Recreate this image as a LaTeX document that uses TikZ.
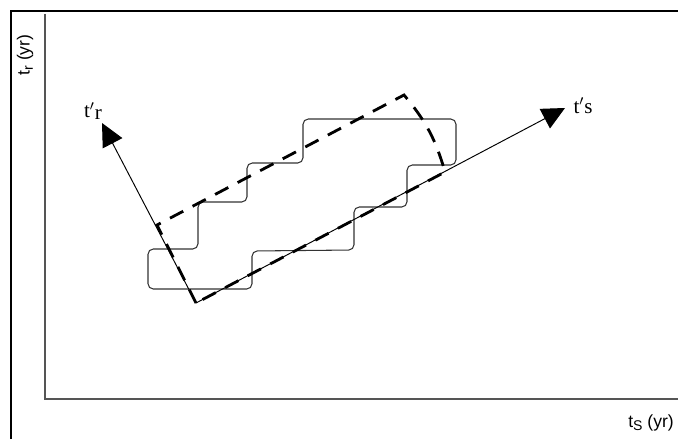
\documentclass[tikz,border=0pt]{standalone}
\usepackage{fontspec}
\setmainfont{Liberation Sans}
\newfontfamily\labelfont{Liberation Serif}
\usetikzlibrary{arrows.meta}
\definecolor{axisgray}{HTML}{555555}
\definecolor{stepgray}{HTML}{333333}
\newcommand{\lowsub}[1]{\raisebox{-0.35ex}{\fontsize{8}{8}\selectfont #1}}

\begin{document}
\begin{tikzpicture}[
    x=0.02cm,y=-0.02cm,
    frame/.style={line width=1.2pt,draw=black},
    axisline/.style={line width=0.9pt,draw=axisgray},
    rotaxis/.style={-{Triangle[length=13pt,width=12.5pt]},line width=0.55pt,draw=black},
    window/.style={dash pattern=on 8.5pt off 6pt,line width=1.6pt,draw=black},
    stairs/.style={line width=0.6pt,draw=stepgray,rounded corners=3pt},
    axislabel/.style={font=\fontsize{10}{12}\selectfont,inner sep=0pt},
    rotlabel/.style={font=\fontsize{12}{14}\selectfont\labelfont,inner sep=0pt}
  ]
    \useasboundingbox (0,0) rectangle (678,439);
    % outer frame (top and left only)
    \draw[frame] (11,439) -- (11,11) -- (678,11);
    % original axes
    \coordinate (top) at (45,14);
    \coordinate (org) at (45,399);
    \coordinate (right) at (678,399);
    \draw[axisline] (top) -- (org) -- (right);
    \node[axislabel,rotate=90] (tr) at (25,55) {t\lowsub{r} (yr)};
    \node[axislabel] (ts) at (651,423) {t\lowsub{S} (yr)};
    % staircase region
    \draw[stairs] (148,289) -- (252,289) -- (252,251) -- (354,250) -- (354,207)
      -- (407,207) -- (407,165) -- (456,165) -- (456,119) -- (303,119)
      -- (303,163) -- (247,163) -- (247,202) -- (198,202) -- (198,249)
      -- (148,249) -- cycle;
    % rotated axes
    \coordinate (O) at (196,303);
    \coordinate (rtip) at (102,123);
    \coordinate (stip) at (565,108);
    \draw[rotaxis] (O) -- (rtip);
    \draw[rotaxis] (O) -- (stip);
    \node[rotlabel] (trp) at (93,111) {t$'$\raisebox{-0.2ex}{r}};
    \node[rotlabel] (tsp) at (583,106) {t$'$s};
    % dashed window
    \coordinate (B) at (157,225);
    \coordinate (C) at (404,95);
    \coordinate (A) at (445,172);
    \draw[window] (O) -- (B) -- (C) to[bend left=12] (A) -- cycle;
\end{tikzpicture}
\end{document}
